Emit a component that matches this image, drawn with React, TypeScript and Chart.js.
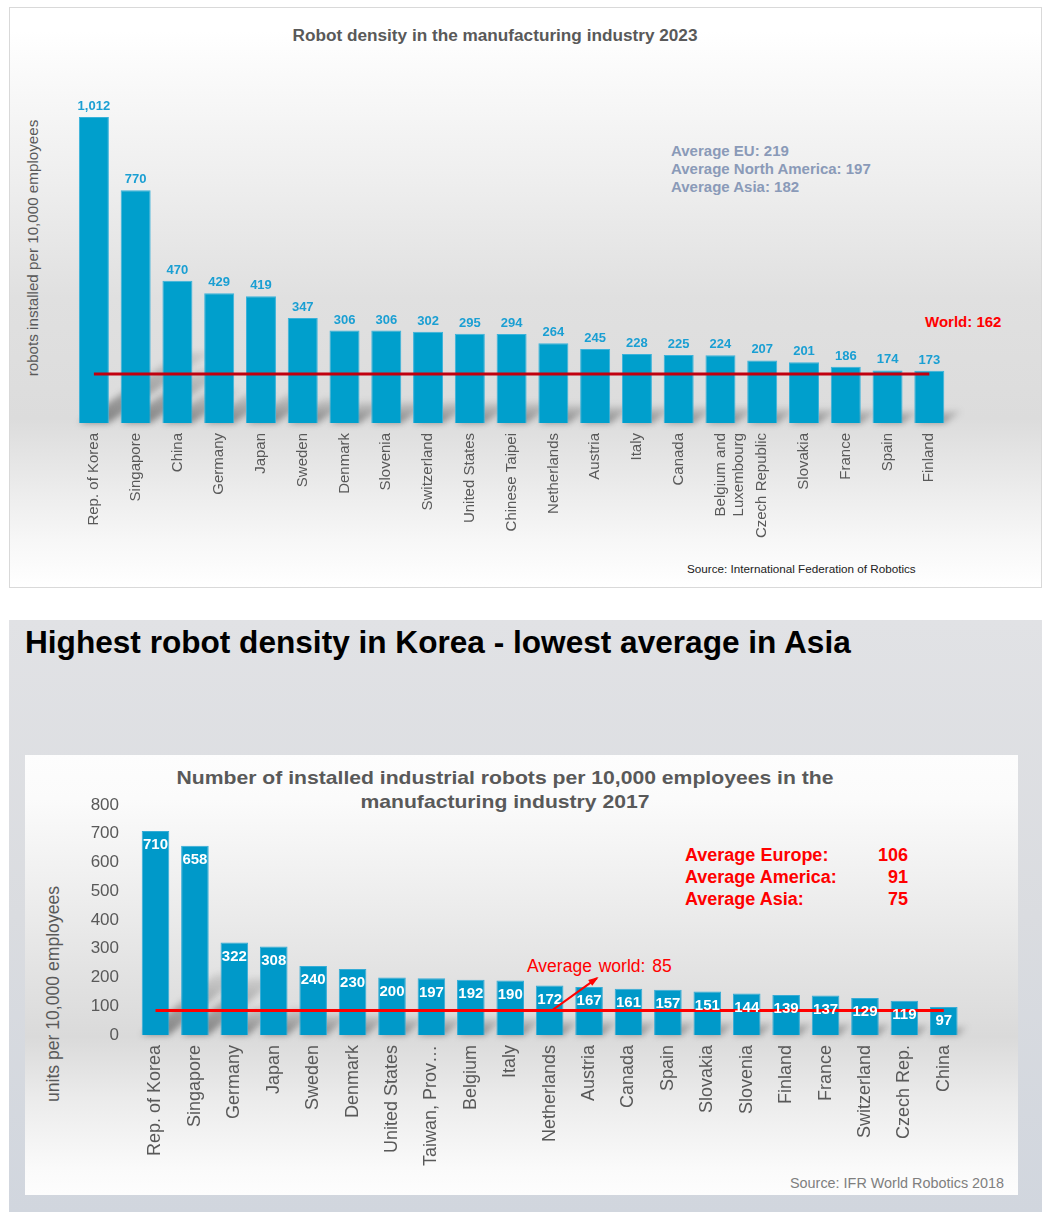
import React, { useEffect, useRef } from 'react';
import { Chart, registerables } from 'chart.js';

Chart.register(...registerables);

const FONT = '"Liberation Sans", Arial, Helvetica, sans-serif';

// ---- Chart 1: robot density 2023 ----
const CATEGORIES_2023: (string | string[])[] = [
  'Rep. of Korea', 'Singapore', 'China', 'Germany', 'Japan', 'Sweden', 'Denmark', 'Slovenia',
  'Switzerland', 'United States', 'Chinese Taipei', 'Netherlands', 'Austria', 'Italy', 'Canada',
  ['Belgium and', 'Luxembourg'], 'Czech Republic', 'Slovakia', 'France', 'Spain', 'Finland',
];
const DENSITY_2023 = [1012, 770, 470, 429, 419, 347, 306, 306, 302, 295, 294, 264, 245, 228, 225, 224, 207, 201, 186, 174, 173];
const WORLD_2023 = 162;
const REGION_LABELS_2023 = ['Average EU', 'Average North America', 'Average Asia'];
const REGION_VALUES_2023 = [219, 197, 182];

// ---- Chart 2: robot density 2017 ----
const CATEGORIES_2017 = [
  'Rep. of Korea', 'Singapore', 'Germany', 'Japan', 'Sweden', 'Denmark', 'United States', 'Taiwan, Prov…',
  'Belgium', 'Italy', 'Netherlands', 'Austria', 'Canada', 'Spain', 'Slovakia', 'Slovenia', 'Finland',
  'France', 'Switzerland', 'Czech Rep.', 'China',
];
const DENSITY_2017 = [710, 658, 322, 308, 240, 230, 200, 197, 192, 190, 172, 167, 161, 157, 151, 144, 139, 137, 129, 119, 97];
const WORLD_2017 = 85;
const REGION_LABELS_2017 = ['Average Europe:', 'Average America:', 'Average Asia:'];
const REGION_VALUES_2017 = [106, 91, 75];
const Y_MIN_2017 = 0;
const Y_MAX_2017 = 800;
const Y_STEP_2017 = 100;

function shadowPlugin(ratioY: number, ratioX: number) {
  return {
    id: 'barShadow',
    beforeDatasetsDraw(chart: any) {
      const meta = chart.getDatasetMeta(0);
      const ctx = chart.ctx as CanvasRenderingContext2D;
      ctx.save();
      ctx.filter = 'blur(3px)';
      meta.data.forEach((bar: any) => {
        const { x, y, base, width } = bar.getProps(['x', 'y', 'base', 'width'], true);
        const h = base - y;
        const dy = h * ratioY;
        const dx = dy * ratioX;
        const l = x - width / 2;
        const r = x + width / 2;
        const g = ctx.createLinearGradient(0, base, 0, base - dy);
        g.addColorStop(0, 'rgba(70,70,70,0.6)');
        g.addColorStop(1, 'rgba(70,70,70,0.12)');
        ctx.fillStyle = g;
        ctx.beginPath();
        ctx.moveTo(l, base);
        ctx.lineTo(r, base);
        ctx.lineTo(r + dx, base - dy);
        ctx.lineTo(l + dx, base - dy);
        ctx.closePath();
        ctx.fill();
      });
      ctx.restore();
    },
  };
}

function valueLabelPlugin(mode: 'above' | 'inside') {
  return {
    id: 'valueLabels',
    afterDatasetsDraw(chart: any) {
      const meta = chart.getDatasetMeta(0);
      const values = chart.data.datasets[0].data as number[];
      const ctx = chart.ctx as CanvasRenderingContext2D;
      ctx.save();
      ctx.textAlign = 'center';
      meta.data.forEach((bar: any, i: number) => {
        const { x, y } = bar.getProps(['x', 'y'], true);
        if (mode === 'above') {
          ctx.font = `bold 13px ${FONT}`;
          ctx.fillStyle = '#1a9fd3';
          ctx.textBaseline = 'bottom';
          ctx.fillText(values[i].toLocaleString('en-US'), x, y - 4);
        } else {
          ctx.font = `bold 15px ${FONT}`;
          ctx.fillStyle = '#ffffff';
          ctx.textBaseline = 'middle';
          ctx.fillText(String(values[i]), x, y + 14);
        }
      });
      ctx.restore();
    },
  };
}

const arrowPlugin = {
  id: 'worldArrow',
  afterDatasetsDraw(chart: any) {
    const xs = chart.scales.x;
    const ys = chart.scales.y;
    const x0 = xs.getPixelForValue(10) + 2;
    const y0 = ys.getPixelForValue(WORLD_2017);
    const x1 = xs.getPixelForValue(11.2);
    const y1 = ys.getPixelForValue(198);
    const ctx = chart.ctx as CanvasRenderingContext2D;
    ctx.save();
    ctx.strokeStyle = '#ff0000';
    ctx.fillStyle = '#ff0000';
    ctx.lineWidth = 2;
    ctx.beginPath();
    ctx.moveTo(x0, y0);
    ctx.lineTo(x1, y1);
    ctx.stroke();
    const ang = Math.atan2(y1 - y0, x1 - x0);
    const L = 9;
    ctx.beginPath();
    ctx.moveTo(x1 + 2 * Math.cos(ang), y1 + 2 * Math.sin(ang));
    ctx.lineTo(x1 - L * Math.cos(ang - 0.4), y1 - L * Math.sin(ang - 0.4));
    ctx.lineTo(x1 - L * Math.cos(ang + 0.4), y1 - L * Math.sin(ang + 0.4));
    ctx.closePath();
    ctx.fill();
    ctx.restore();
  },
};

export default function App() {
  const topRef = useRef<HTMLCanvasElement>(null);
  const botRef = useRef<HTMLCanvasElement>(null);

  useEffect(() => {
    const c1 = new Chart(topRef.current as HTMLCanvasElement, {
      type: 'bar',
      data: {
        labels: CATEGORIES_2023 as any,
        datasets: [
          {
            type: 'bar',
            data: DENSITY_2023,
            backgroundColor: '#009fcc',
            borderColor: '#3ab2da',
            borderWidth: 1,
            barPercentage: 0.718,
            categoryPercentage: 1,
            order: 1,
          } as any,
          {
            type: 'line',
            data: CATEGORIES_2023.map(() => WORLD_2023),
            borderColor: '#c2000e',
            borderWidth: 3,
            pointRadius: 0,
            order: 0,
          } as any,
        ],
      },
      options: {
        responsive: false,
        animation: false,
        devicePixelRatio: 1,
        layout: { padding: { left: 73, right: 99.8, top: 90.36, bottom: 0 } },
        plugins: { legend: { display: false }, tooltip: { enabled: false } },
        scales: {
          x: {
            grid: { display: false, drawTicks: false },
            border: { display: false },
            ticks: {
              autoSkip: false,
              maxRotation: 90,
              minRotation: 90,
              padding: 10,
              color: '#595959',
              font: { family: FONT, size: 15 },
            },
            afterFit: (s: any) => { s.height = 177; },
          },
          y: { display: false, min: 0, max: 1100 },
        },
      } as any,
      plugins: [shadowPlugin(0.23, 1.45), valueLabelPlugin('above')],
    });

    const c2 = new Chart(botRef.current as HTMLCanvasElement, {
      type: 'bar',
      data: {
        labels: CATEGORIES_2017,
        datasets: [
          {
            type: 'bar',
            data: DENSITY_2017,
            backgroundColor: '#0099c9',
            borderColor: '#36acd6',
            borderWidth: 1,
            barPercentage: 0.70,
            categoryPercentage: 1,
            order: 1,
          } as any,
          {
            type: 'line',
            data: CATEGORIES_2017.map(() => WORLD_2017),
            borderColor: '#ff0000',
            borderWidth: 3,
            pointRadius: 0,
            order: 0,
          } as any,
        ],
      },
      options: {
        responsive: false,
        animation: false,
        devicePixelRatio: 1,
        layout: { padding: { left: 0, right: 86.5, top: 50, bottom: 0 } },
        plugins: { legend: { display: false }, tooltip: { enabled: false } },
        scales: {
          x: {
            grid: { display: false, drawTicks: false },
            border: { display: false },
            ticks: {
              autoSkip: false,
              maxRotation: 90,
              minRotation: 90,
              padding: 10,
              color: '#595959',
              font: { family: FONT, size: 18 },
            },
            afterFit: (s: any) => { s.height = 160; },
          },
          y: {
            min: Y_MIN_2017,
            max: Y_MAX_2017,
            grid: { display: false, drawTicks: false },
            border: { display: false },
            ticks: {
              stepSize: Y_STEP_2017,
              padding: 16.8,
              color: '#595959',
              font: { family: FONT, size: 17 },
            },
            afterFit: (s: any) => { s.width = 135.8; },
          },
        },
      } as any,
      plugins: [shadowPlugin(0.3, 1.2), valueLabelPlugin('inside'), arrowPlugin],
    });

    return () => {
      c1.destroy();
      c2.destroy();
    };
  }, []);

  const abs = (o: React.CSSProperties): React.CSSProperties => ({ position: 'absolute', ...o });

  return (
    <div style={{ position: 'absolute', left: 0, top: 0, width: 1050, height: 1218, fontFamily: FONT, background: '#fff', overflow: 'hidden' }}>
      {/* ---------- Top panel ---------- */}
      <div
        style={abs({
          left: 9, top: 7, width: 1033, height: 581, boxSizing: 'border-box', border: '1px solid #d9d9d9',
          background: 'linear-gradient(to bottom, #ffffff 0%, #ffffff 4%, #f7f7f7 16%, #ececec 33%, #e0e0e0 50%, #dcdcdc 71%, #e9e9e9 81%, #f7f7f7 92%, #ffffff 100%)',
        })}
      />
      <div style={abs({ left: 0, top: 25, width: 990, textAlign: 'center', fontSize: 17.2, lineHeight: '20px', fontWeight: 'bold', color: '#595959' })}>
        Robot density in the manufacturing industry 2023
      </div>
      <div style={abs({ left: 33 - 150, top: 247.5 - 9, width: 300, height: 18, lineHeight: '18px', textAlign: 'center', fontSize: 15.2, color: '#595959', transform: 'rotate(-90deg)' })}>
        robots installed per 10,000 employees
      </div>
      <div style={abs({ left: 671, top: 142, fontSize: 15, lineHeight: '18px', fontWeight: 'bold', color: '#8a9ab8', whiteSpace: 'nowrap' })}>
        {REGION_LABELS_2023.map((l, i) => (
          <div key={i}>{`${l}: ${REGION_VALUES_2023[i]}`}</div>
        ))}
      </div>
      <div style={abs({ left: 925, top: 313, fontSize: 15, lineHeight: '18px', fontWeight: 'bold', color: '#ff0000', whiteSpace: 'nowrap' })}>
        {`World: ${WORLD_2023}`}
      </div>
      <div style={abs({ left: 687, top: 562, fontSize: 11.7, lineHeight: '14px', color: '#222', whiteSpace: 'nowrap' })}>
        Source: International Federation of Robotics
      </div>
      <canvas ref={topRef} width={1050} height={600} style={abs({ left: 0, top: 0, width: 1050, height: 600 })} />

      {/* ---------- Bottom panel ---------- */}
      <div style={abs({ left: 9, top: 620, width: 1033, height: 592, background: 'linear-gradient(to bottom, #e1e2e5 0%, #dadce0 50%, #d1d6de 100%)' })} />
      <div style={abs({ left: 25, top: 624, fontSize: 31.6, lineHeight: '36px', fontWeight: 'bold', color: '#000', whiteSpace: 'nowrap' })}>
        Highest robot density in Korea - lowest average in Asia
      </div>
      <div
        style={abs({
          left: 25, top: 755, width: 993, height: 440,
          background: 'linear-gradient(to bottom, #fdfdfd 0%, #fbfbfb 10%, #f0f0f0 28%, #e4e4e4 47%, #dadada 64%, #ebebeb 78%, #fafafa 94%, #fdfdfd 100%)',
        })}
      />
      <div style={abs({ left: 0, top: 766, width: 1010, textAlign: 'center', fontSize: 19, lineHeight: '24px', fontWeight: 'bold', color: '#595959', transform: 'scaleX(1.113)', transformOrigin: '505px 0' })}>
        Number of installed industrial robots per 10,000 employees in the
        <br />
        manufacturing industry 2017
      </div>
      {REGION_LABELS_2017.map((l, i) => (
        <div key={i} style={abs({ left: 685, top: 844 + i * 22, width: 223, display: 'flex', justifyContent: 'space-between', fontSize: 18, lineHeight: '22px', fontWeight: 'bold', color: '#ff0000', whiteSpace: 'nowrap' })}>
          <span>{l}</span>
          <span>{REGION_VALUES_2017[i]}</span>
        </div>
      ))}
      <div style={abs({ left: 527, top: 955, fontSize: 17.5, lineHeight: '22px', color: '#ff0000', whiteSpace: 'nowrap', wordSpacing: 2 })}>
        {`Average world: ${WORLD_2017}`}
      </div>
      <div style={abs({ left: 53 - 150, top: 993.5 - 10, width: 300, height: 20, lineHeight: '20px', textAlign: 'center', fontSize: 17.6, color: '#595959', transform: 'rotate(-90deg)' })}>
        units per 10,000 employees
      </div>
      <div style={abs({ left: 790, top: 1174, fontSize: 14.4, lineHeight: '18px', color: '#7f7f7f', whiteSpace: 'nowrap' })}>
        Source: IFR World Robotics 2018
      </div>
      <canvas ref={botRef} width={1050} height={440} style={abs({ left: 0, top: 755, width: 1050, height: 440 })} />
    </div>
  );
}
